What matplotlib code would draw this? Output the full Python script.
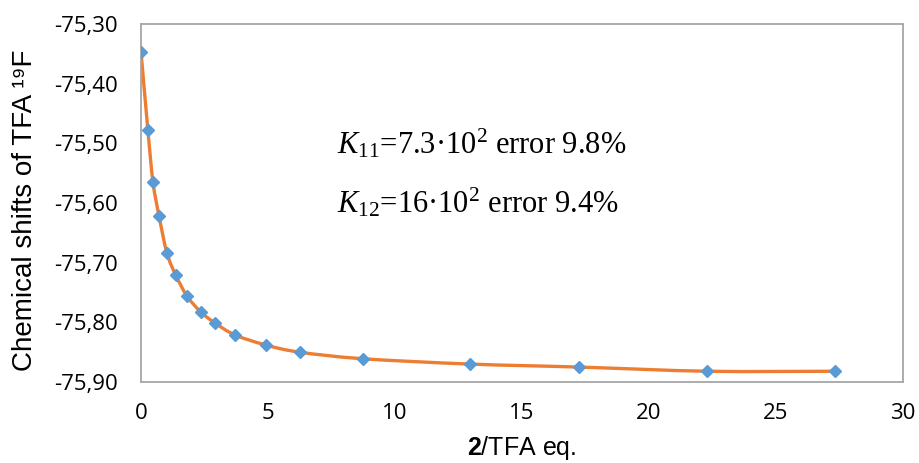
import matplotlib
matplotlib.use("Agg")
import matplotlib.pyplot as plt
import numpy as np
from matplotlib.path import Path
from matplotlib.patches import PathPatch
from matplotlib.ticker import FuncFormatter, MultipleLocator

# Data
ratio_eq = [0.0, 0.27, 0.47, 0.71, 1.02, 1.37, 1.81, 2.36, 2.91, 3.69,
            4.91, 6.24, 8.72, 12.96, 17.24, 22.30, 27.33]
shift_ppm = [-75.347, -75.478, -75.565, -75.622, -75.684, -75.721, -75.756,
             -75.783, -75.801, -75.821, -75.838, -75.850, -75.861, -75.870,
             -75.875, -75.882, -75.882]

line_color = '#ED7D31'
marker_color = '#5B9BD5'
frame_color = '#A6A6A6'

plt.rcParams['mathtext.fontset'] = 'custom'
plt.rcParams['mathtext.rm'] = 'Liberation Serif'
plt.rcParams['mathtext.it'] = 'Liberation Serif:italic'
plt.rcParams['mathtext.bf'] = 'Liberation Sans:bold'


def smooth_path(x, y):
    """Catmull-Rom style smoothing like Excel's smoothed line, as cubic Bezier."""
    pts = np.column_stack([x, y])
    verts = [pts[0]]
    codes = [Path.MOVETO]
    n = len(pts)
    for i in range(n - 1):
        p0 = pts[i - 1] if i > 0 else pts[i]
        p1 = pts[i]
        p2 = pts[i + 1]
        p3 = pts[i + 2] if i + 2 < n else pts[i + 1]
        c1 = p1 + (p2 - p0) / 6.0
        c2 = p2 - (p3 - p1) / 6.0
        verts += [c1, c2, p2]
        codes += [Path.CURVE4] * 3
    return Path(verts, codes)


fig = plt.figure(figsize=(9.2, 4.63), dpi=100)
ax = fig.add_axes([0.1533, 0.175, 0.8282, 0.773])

ax.add_patch(PathPatch(smooth_path(ratio_eq, shift_ppm), facecolor='none',
                       edgecolor=line_color, linewidth=2.4, zorder=2,
                       capstyle='round'))
ax.plot(ratio_eq, shift_ppm, linestyle='none', marker='D', markersize=6,
        color=marker_color, zorder=3)

ax.set_xlim(0, 30)
ax.set_ylim(-75.90, -75.30)
ax.xaxis.set_major_locator(MultipleLocator(5))
ax.yaxis.set_major_locator(MultipleLocator(0.1))
ax.yaxis.set_major_formatter(FuncFormatter(lambda v, p: f'{v:.2f}'.replace('.', ',')))

for side in ['top', 'right', 'bottom', 'left']:
    ax.spines[side].set_color(frame_color)
    ax.spines[side].set_linewidth(1.3)

ax.tick_params(axis='both', length=0)
ax.tick_params(axis='y', pad=17)
ax.tick_params(axis='x', pad=15)
for lbl in ax.get_yticklabels() + ax.get_xticklabels():
    lbl.set_fontfamily('Open Sans')
    lbl.set_fontsize(16)

ax.set_ylabel('Chemical shifts of TFA \u00b9\u2079F', fontsize=20,
              family=['Liberation Sans', 'DejaVu Sans'])
ax.yaxis.set_label_coords(-0.152, 0.48)
ax.yaxis.label.set_va('center')
ax.set_xlabel(r'$\mathbf{2}$/TFA eq.', fontsize=18, family='Liberation Sans')
ax.xaxis.set_label_coords(0.5, -0.185)
ax.xaxis.label.set_va('center')

ax.text(0.257, 0.665, r'$K_{11}$=7.3·10$^2$ error 9.8%', transform=ax.transAxes,
        fontsize=22, family='Liberation Serif', va='center', ha='left')
ax.text(0.257, 0.50, r'$K_{12}$=16·10$^2$ error 9.4%', transform=ax.transAxes,
        fontsize=22, family='Liberation Serif', va='center', ha='left')

fig.savefig('out.png', dpi=100)
